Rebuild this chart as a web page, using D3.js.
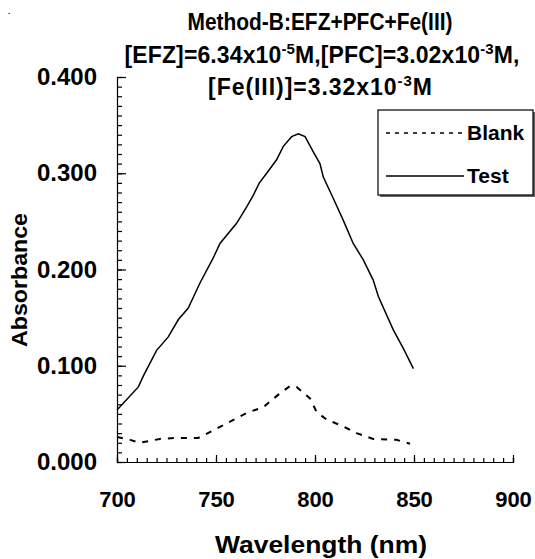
<!DOCTYPE html>
<html><head><meta charset="utf-8">
<script src="https://cdn.jsdelivr.net/npm/d3@7"></script>
<style>
body{margin:0;background:#fff;}
text{font-family:"Liberation Sans",Arial,sans-serif;font-weight:bold;fill:#000;}
</style></head>
<body><svg id="c" width="535" height="559"></svg>
<script>
const testWavelengths = [700,710.8,713.2,720,725.9,731,736,741.9,748.6,752,760.4,765.5,768.8,771.9,775.6,780.6,784,788.2,791.6,795,799.2,802.5,804.2,809.2,814.3,819.3,824.4,829.4,832,839.6,844.6,849.7];
const testValues = [0.054,0.078,0.089,0.116,0.130,0.148,0.160,0.186,0.212,0.227,0.248,0.265,0.277,0.290,0.300,0.314,0.328,0.338,0.341,0.338,0.322,0.310,0.296,0.274,0.251,0.227,0.210,0.189,0.172,0.137,0.118,0.097];
const blankWavelengths = [700,706.6,711.6,716.7,721.7,730,741,746.9,755.4,765.5,773.9,781.5,787.4,790.7,797.5,800.8,805.9,814.3,821,829.4,841.2,848];
const blankValues = [0.026,0.023,0.020,0.022,0.024,0.025,0.025,0.031,0.040,0.051,0.057,0.070,0.079,0.078,0.066,0.052,0.044,0.037,0.030,0.024,0.023,0.019];
const xTicks = [700,750,800,850,900];
const yTicks = [0,0.1,0.2,0.3,0.4];
const seriesNames = ["Blank","Test"];

const svg = d3.select("#c");
const x = d3.scaleLinear().domain([700,900]).range([117,513]);
const y = d3.scaleLinear().domain([0,0.4]).range([462,77]);

svg.append("g").attr("transform","translate(117,0)")
  .call(d3.axisLeft(y).tickValues(d3.range(0,0.4001,0.01)).tickSize(-5).tickFormat(""))
  .call(g=>g.selectAll("line").attr("stroke","#000").attr("stroke-width",1.2))
  .call(g=>g.select(".domain").attr("stroke","#000").attr("stroke-width",1.2));
svg.append("g").attr("transform","translate(117,0)")
  .call(d3.axisLeft(y).tickValues(yTicks).tickSize(-9).tickPadding(20).tickFormat(d3.format(".3f")))
  .call(g=>g.select(".domain").remove())
  .call(g=>g.selectAll("line").attr("stroke","#000").attr("stroke-width",1.2))
  .call(g=>g.selectAll("text").attr("font-size",24).attr("font-family",null));
svg.append("g").attr("transform","translate(0,462)")
  .call(d3.axisBottom(x).tickValues(d3.range(700,900.1,5)).tickSize(-4).tickFormat(""))
  .call(g=>g.selectAll("line").attr("stroke","#000").attr("stroke-width",1.2))
  .call(g=>g.select(".domain").attr("stroke","#000").attr("stroke-width",1.2));
svg.append("g").attr("transform","translate(0,462)")
  .call(d3.axisBottom(x).tickValues(xTicks).tickSize(-7).tickPadding(29).tickFormat(d3.format("d")))
  .call(g=>g.select(".domain").remove())
  .call(g=>g.selectAll("line").attr("stroke","#000").attr("stroke-width",1.2))
  .call(g=>g.selectAll("text").attr("font-size",22).attr("font-family",null));

const line = d3.line().x(d=>x(d[0])).y(d=>y(d[1]));
svg.append("path").datum(d3.zip(testWavelengths,testValues)).attr("d",line)
  .attr("fill","none").attr("stroke","#000").attr("stroke-width",1.5);
svg.append("path").datum(d3.zip(blankWavelengths,blankValues)).attr("d",line)
  .attr("fill","none").attr("stroke","#000").attr("stroke-width",2).attr("stroke-dasharray","6,7");

svg.append("text").attr("text-anchor","middle").attr("font-size",23).attr("x",320).attr("y",30)
  .attr("textLength",265).attr("lengthAdjust","spacingAndGlyphs").text("Method-B:EFZ+PFC+Fe(III)");
const l2 = svg.append("text").attr("text-anchor","middle").attr("font-size",23).attr("x",322).attr("y",63)
  .attr("textLength",395).attr("lengthAdjust","spacing");
l2.append("tspan").text("[EFZ]=6.34x10");
l2.append("tspan").attr("dy",-9).attr("font-size",15).text("-5");
l2.append("tspan").attr("dy",9).text("M,[PFC]=3.02x10");
l2.append("tspan").attr("dy",-9).attr("font-size",15).text("-3");
l2.append("tspan").attr("dy",9).text("M,");
const l3 = svg.append("text").attr("text-anchor","middle").attr("font-size",23).attr("x",320).attr("y",95)
  .attr("textLength",224).attr("lengthAdjust","spacing");
l3.append("tspan").text("[Fe(III)]=3.32x10");
l3.append("tspan").attr("dy",-9).attr("font-size",15).text("-3");
l3.append("tspan").attr("dy",9).text("M");

svg.append("text").attr("text-anchor","middle").attr("font-size",24)
  .attr("x",321).attr("y",553).attr("textLength",212).attr("lengthAdjust","spacingAndGlyphs").text("Wavelength (nm)");
svg.append("text").attr("text-anchor","middle").attr("font-size",22)
  .attr("transform","translate(27,280) rotate(-90)").attr("textLength",134).attr("lengthAdjust","spacingAndGlyphs").text("Absorbance");
svg.append("text").attr("x",8).attr("y",14).attr("font-size",8).text(".");

svg.append("rect").attr("x",380).attr("y",112).attr("width",155).attr("height",85).attr("fill","#666");
svg.append("rect").attr("x",378).attr("y",110).attr("width",155).attr("height",85)
  .attr("fill","#fff").attr("stroke","#000").attr("stroke-width",1.2);
const leg = svg.append("g");
seriesNames.forEach((n,i)=>{
  const yy = 133 + i*43;
  leg.append("line").attr("x1",386).attr("x2",464).attr("y1",yy).attr("y2",yy)
    .attr("stroke","#000").attr("stroke-width",1.5).attr("stroke-dasharray", i===0?"4,5":null);
  leg.append("text").attr("x",467).attr("y",yy+7).attr("font-size",21).text(n);
});
</script></body></html>
